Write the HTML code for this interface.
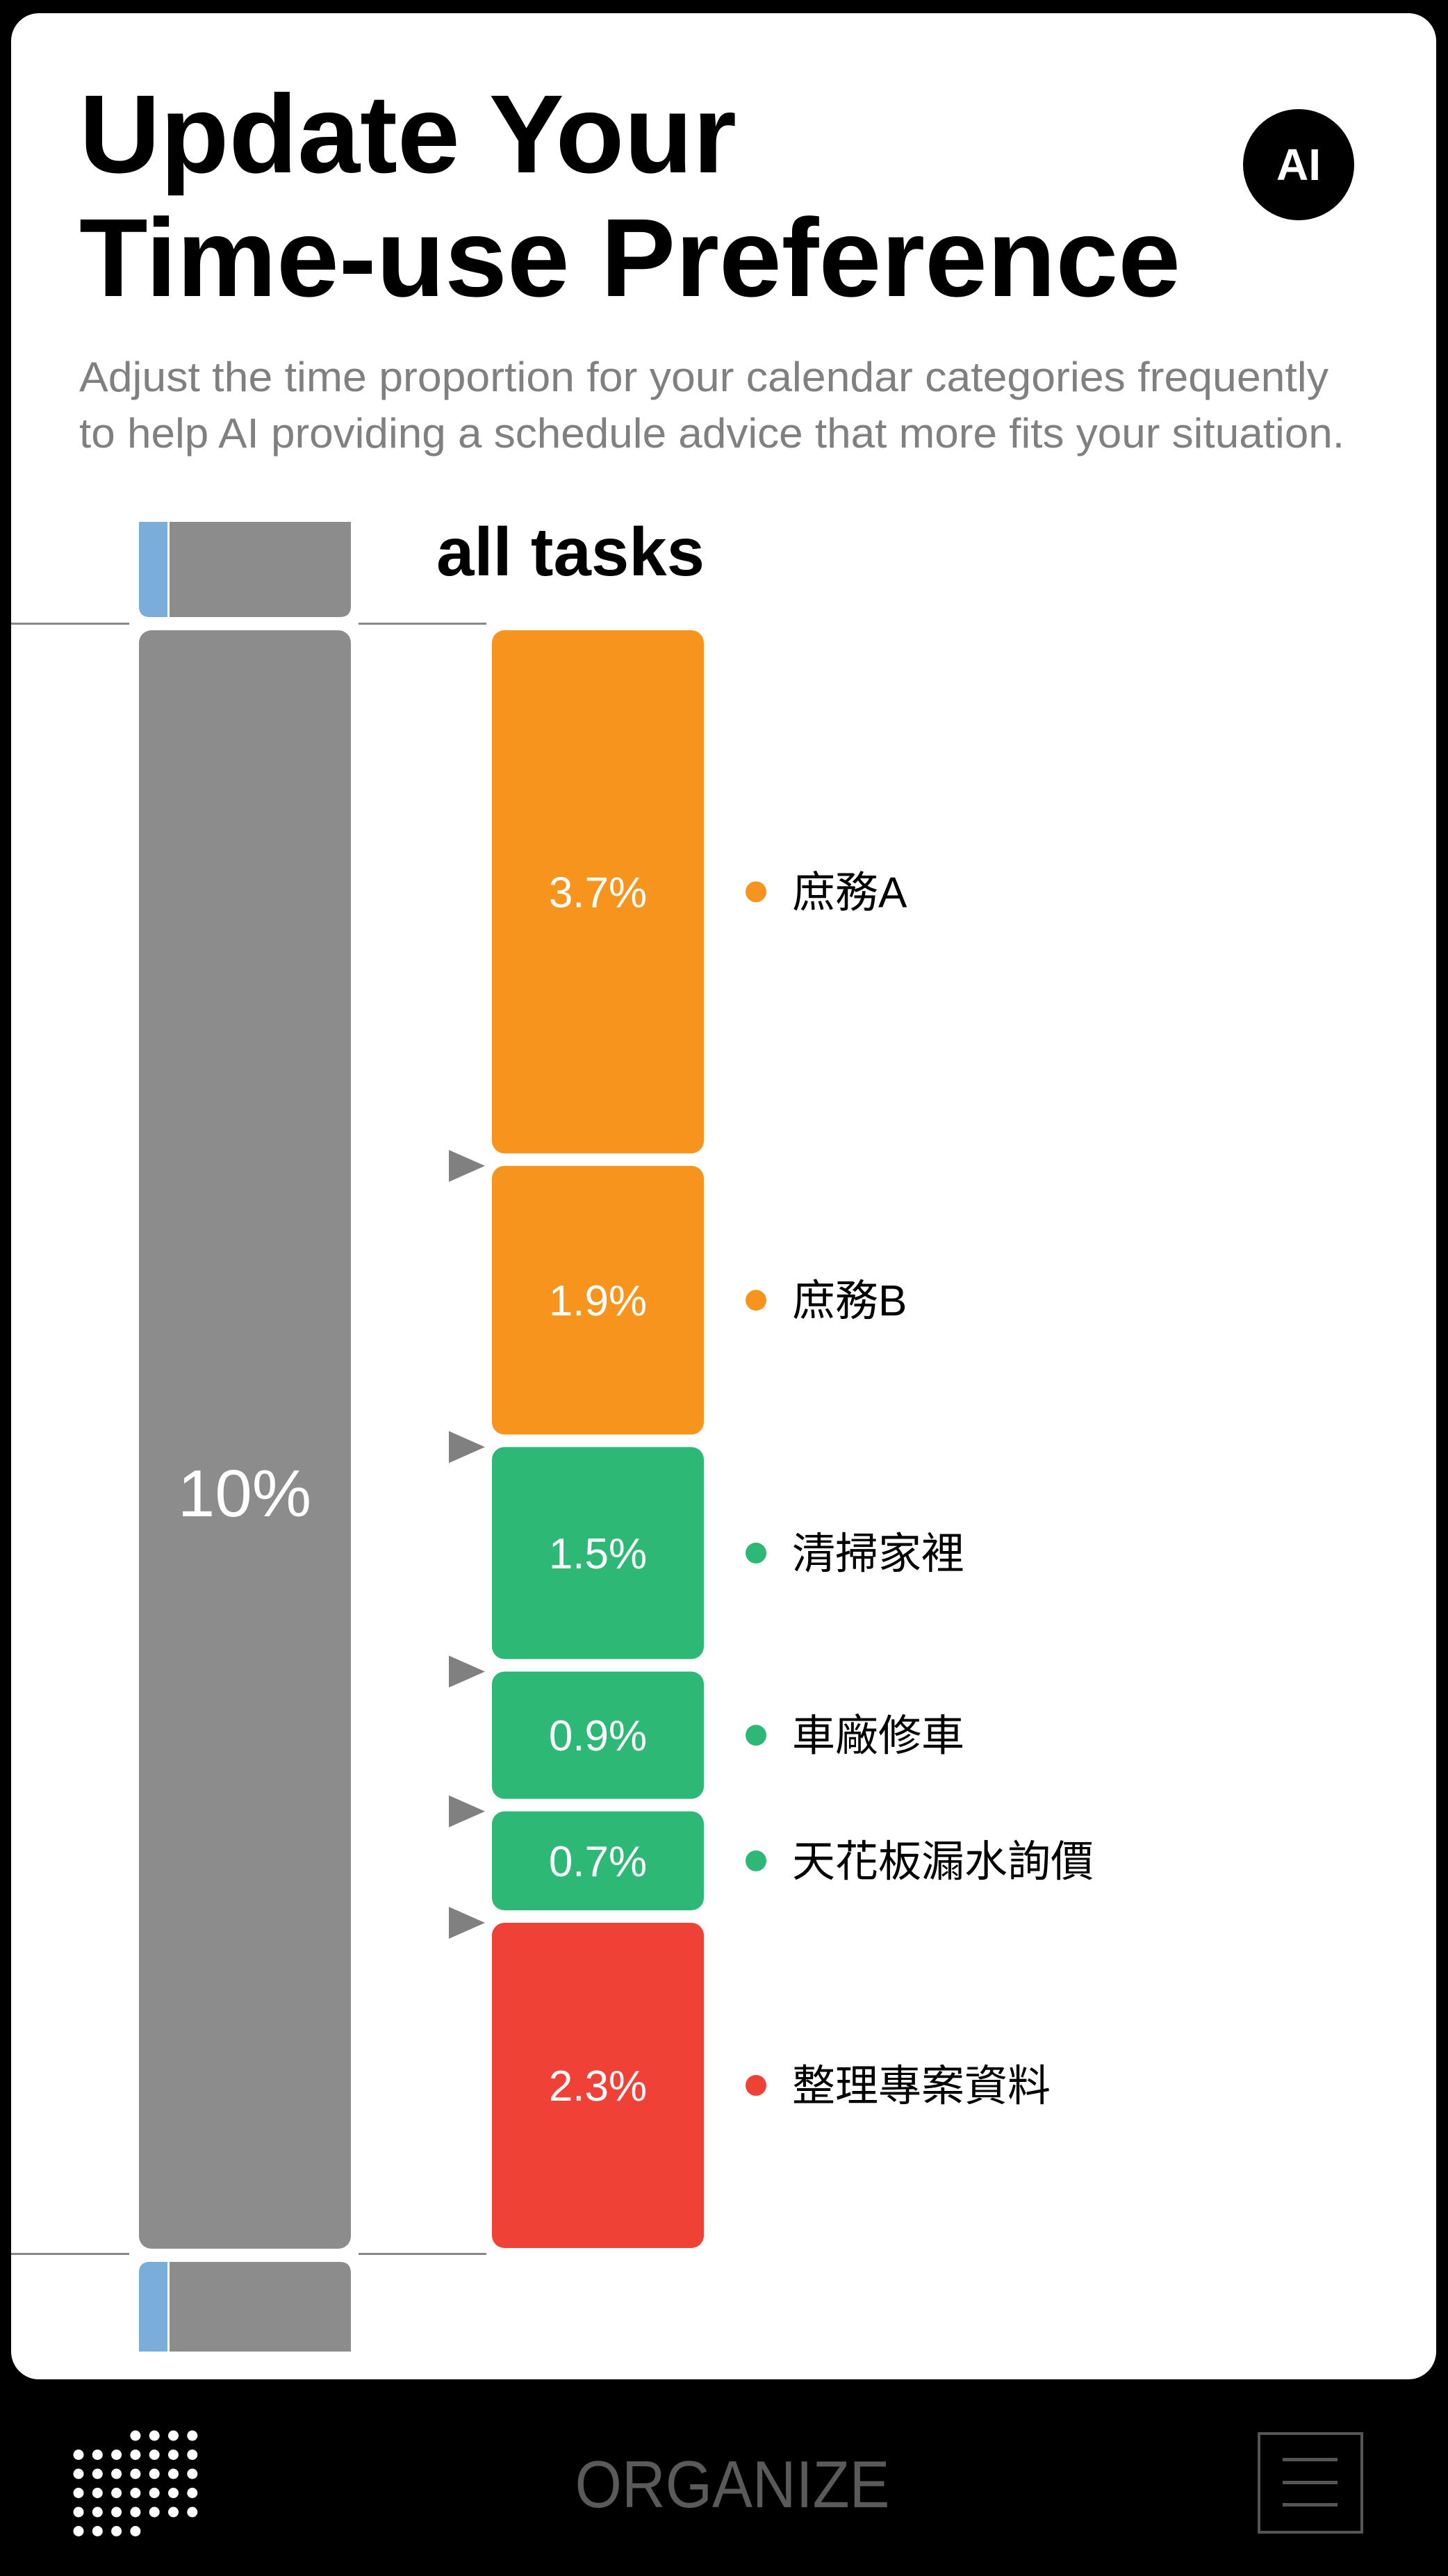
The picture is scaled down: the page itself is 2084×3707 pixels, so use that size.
<!DOCTYPE html>
<html><head><meta charset="utf-8"><style>
html,body{margin:0;padding:0;background:#000;}
svg{display:block;}
</style></head><body>
<svg id="chart" width="2084" height="3707" viewBox="0 0 2084 3707" xmlns="http://www.w3.org/2000/svg">
<rect x="0" y="0" width="2084" height="3707" fill="#000"/>
<rect x="16" y="19" width="2051" height="3405" rx="40" fill="#fff"/>
<text x="114" y="248" font-family="Liberation Sans, sans-serif" font-weight="700" font-size="160" fill="#000" textLength="946" lengthAdjust="spacingAndGlyphs">Update Your</text>
<text x="114" y="426" font-family="Liberation Sans, sans-serif" font-weight="700" font-size="160" fill="#000" textLength="1585" lengthAdjust="spacingAndGlyphs">Time-use Preference</text>
<g>
<circle cx="1869" cy="237" r="80" fill="#000"/>
<text x="1869" y="259" text-anchor="middle" font-family="Liberation Sans, sans-serif" font-weight="700" font-size="64" fill="#fff">AI</text>
</g>
<text x="114" y="563" font-family="Liberation Sans, sans-serif" font-size="60" fill="#808080" textLength="1798" lengthAdjust="spacingAndGlyphs">Adjust the time proportion for your calendar categories frequently</text>
<text x="114" y="644" font-family="Liberation Sans, sans-serif" font-size="60" fill="#808080" textLength="1821" lengthAdjust="spacingAndGlyphs">to help AI providing a schedule advice that more fits your situation.</text>
<text x="628" y="828" font-family="Liberation Sans, sans-serif" font-weight="700" font-size="98" fill="#000" textLength="386" lengthAdjust="spacingAndGlyphs">all tasks</text>

<g>
<path d="M200 751 H505 V872 Q505 888 489 888 H216 Q200 888 200 872 Z" fill="#8c8c8d"/>
<path d="M200 751 H241 V888 H216 Q200 888 200 872 Z" fill="#7aadda"/>
<rect x="241" y="751" width="3" height="137" fill="#fff"/>
<rect x="200" y="907" width="305" height="2329" rx="18" fill="#8c8c8d"/>
<text x="352" y="2182" text-anchor="middle" font-family="Liberation Sans, sans-serif" font-size="96" fill="#fff">10%</text>
<path d="M216 3255 H489 Q505 3255 505 3271 V3384 H200 V3271 Q200 3255 216 3255 Z" fill="#8c8c8d"/>
<path d="M216 3255 H241 V3384 H200 V3271 Q200 3255 216 3255 Z" fill="#7aadda"/>
<rect x="241" y="3255" width="3" height="129" fill="#fff"/>
<rect x="16" y="896" width="170" height="3" fill="#888"/>
<rect x="516" y="896" width="184" height="3" fill="#888"/>
<rect x="16" y="3242" width="170" height="3" fill="#888"/>
<rect x="516" y="3242" width="184" height="3" fill="#888"/>
</g>
<g id="tasks"></g>

<g>
<g id="dots"></g>
<text x="1054" y="3608" text-anchor="middle" font-family="Liberation Sans Narrow, Liberation Sans, sans-serif" font-size="96" fill="#5a5a5a" textLength="453" lengthAdjust="spacingAndGlyphs">ORGANIZE</text>
<g>
<rect x="1812" y="3502" width="148" height="142" fill="none" stroke="#555" stroke-width="4"/>
<rect x="1846" y="3537" width="79" height="5" fill="#555"/>
<rect x="1846" y="3570" width="79" height="5" fill="#555"/>
<rect x="1846" y="3602" width="79" height="5" fill="#555"/>
</g>
</g>
</svg>
<script>
const categories = ["庶務A","庶務B","清掃家裡","車廠修車","天花板漏水詢價","整理專案資料"];
const values = [3.7, 1.9, 1.5, 0.9, 0.7, 2.3];
const valueLabels = ["3.7%","1.9%","1.5%","0.9%","0.7%","2.3%"];
const colorKeys = ["orange","orange","green","green","green","red"];

const NS = "http://www.w3.org/2000/svg";
const palette = {orange:"#f7941e", green:"#2db975", red:"#ef4136"};
const top0 = 907, bottom0 = 3235, gap = 18, barX = 708, barW = 305;
const total = values.reduce((a,b)=>a+b,0);
const unit = (bottom0 - top0 - gap*(values.length-1)) / total;
function yScale(i){ let y = top0; for(let k=0;k<i;k++) y += values[k]*unit + gap; return y; }
function hScale(v){ return v*unit; }
const g = document.getElementById('tasks');
values.forEach((v,i)=>{
  const y = yScale(i), h = hScale(v), col = palette[colorKeys[i]], cy = y + h/2;
  const r = document.createElementNS(NS,'rect');
  r.setAttribute('x',barX); r.setAttribute('y',y); r.setAttribute('width',barW); r.setAttribute('height',h);
  r.setAttribute('rx',18); r.setAttribute('fill',col);
  
  
  g.appendChild(r);
  const t = document.createElementNS(NS,'text');
  t.setAttribute('x',barX+barW/2); t.setAttribute('y',cy+22); t.setAttribute('text-anchor','middle');
  t.setAttribute('font-family','Liberation Sans, sans-serif'); t.setAttribute('font-size','62'); t.setAttribute('fill','#fff');
  t.textContent = valueLabels[i];
  
  
  g.appendChild(t);
  const c = document.createElementNS(NS,'circle');
  c.setAttribute('cx',1088); c.setAttribute('cy',cy); c.setAttribute('r',15); c.setAttribute('fill',col);
  
  
  g.appendChild(c);
  const l = document.createElementNS(NS,'text');
  l.setAttribute('x',1140); l.setAttribute('y',cy+22);
  l.setAttribute('font-family','Liberation Sans, Noto Sans CJK TC, sans-serif'); l.setAttribute('font-size','62'); l.setAttribute('fill','#000');
  l.textContent = categories[i];
  
  
  g.appendChild(l);
  if(i>0){
    const p = document.createElementNS(NS,'path');
    const ty = y;
    p.setAttribute('d',`M646 ${ty-23} L698 ${ty} L646 ${ty+23} Z`); p.setAttribute('fill','#808080');
    
    
    g.appendChild(p);
  }
});
const dg = document.getElementById('dots');
for(let row=0;row<6;row++){
  for(let col=0;col<7;col++){
    if(row===0 && col<3) continue;
    if(row===5 && col>3) continue;
    const e = document.createElementNS(NS,'circle');
    e.setAttribute('cx',113+col*27.3); e.setAttribute('cy',3505+row*27.5); e.setAttribute('r',7.5); e.setAttribute('fill','#fff');
    
    
    dg.appendChild(e);
  }
}
</script>
</body></html>
